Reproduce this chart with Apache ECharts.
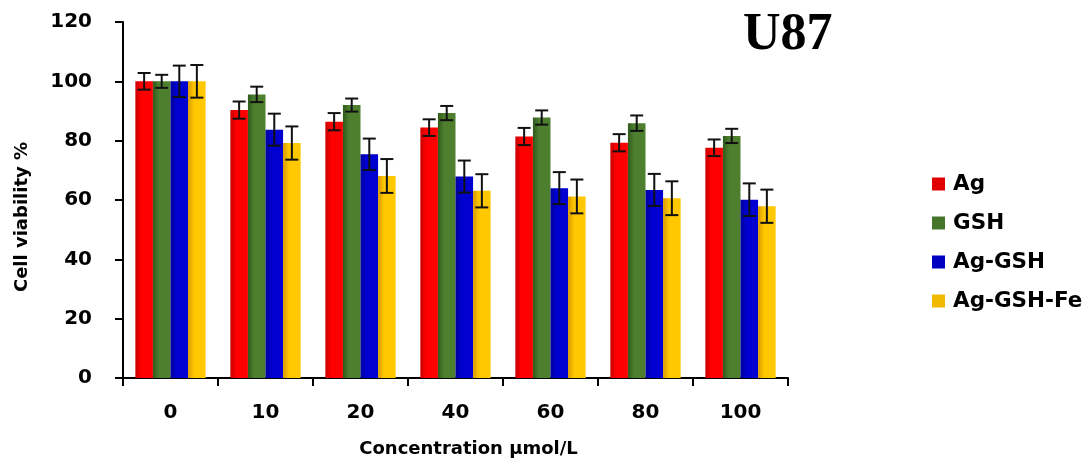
<!DOCTYPE html>
<html>
<head>
<meta charset="utf-8">
<script src="https://cdn.jsdelivr.net/npm/echarts@6/dist/echarts.min.js"></script>
<style>
  html, body { margin: 0; padding: 0; background: #fff; }
  #chart { width: 1089px; height: 465px; }
</style>
</head>
<body>
<div id="chart"></div>
<script>
// concentrations (µmol/L)
const categories = ['0', '10', '20', '40', '60', '80', '100'];

// mean cell viability % per group
const agValues = [100, 90.3, 86.4, 84.4, 81.4, 79.3, 77.6];
const gshValues = [100, 95.6, 92.0, 89.3, 87.8, 85.9, 81.6];
const agGshValues = [100, 83.7, 75.4, 67.9, 64.0, 63.4, 60.1];
const agGshFeValues = [100, 79.2, 68.1, 63.1, 61.2, 60.6, 57.9];

// error bar half-heights
const agErr = [2.8, 2.9, 2.9, 2.8, 2.9, 2.9, 2.8];
const gshErr = [2.2, 2.6, 2.2, 2.4, 2.4, 2.6, 2.4];
const agGshErr = [5.3, 5.4, 5.3, 5.4, 5.4, 5.4, 5.5];
const agGshFeErr = [5.5, 5.6, 5.7, 5.6, 5.7, 5.7, 5.6];

const yTicks = [0, 20, 40, 60, 80, 100, 120];

const seriesNames = ['Ag', 'GSH', 'Ag-GSH', 'Ag-GSH-Fe'];
const seriesValues = [agValues, gshValues, agGshValues, agGshFeValues];
const seriesErrs = [agErr, gshErr, agGshErr, agGshFeErr];

function shade(c1, c2) {
    return new echarts.graphic.LinearGradient(0, 0, 1, 0, [
        { offset: 0, color: c1 },
        { offset: 0.35, color: c2 },
        { offset: 1, color: c2 }
    ]);
}
const colors = [
    shade('#c80000', '#ff0000'),
    shade('#2f5a1c', '#4e7f2e'),
    shade('#00009a', '#0000d0'),
    shade('#d99a00', '#ffc800')
];
const legendColors = ['#e00000', '#45752a', '#0000c0', '#f0b800'];

const CAT_GAP = 0.26;
const font = '"DejaVu Sans", sans-serif';

const chart = echarts.init(document.getElementById('chart'));

const barSeries = seriesNames.map((name, i) => ({
    name: name,
    type: 'bar',
    data: seriesValues[i],
    barGap: '0%',
    barCategoryGap: (CAT_GAP * 100) + '%',
    itemStyle: { color: colors[i] },
    emphasis: { disabled: true }
}));

const errData = [];
seriesValues.forEach((vals, s) => {
    vals.forEach((v, c) => errData.push([c, v, seriesErrs[s][c], s]));
});

const errSeries = {
    type: 'custom',
    data: errData,
    z: 10,
    silent: true,
    renderItem: function (params, api) {
        const c = api.value(0);
        const v = api.value(1);
        const e = api.value(2);
        const s = api.value(3);
        const bandW = api.size([1, 0])[0];
        const bw = bandW * (1 - CAT_GAP) / 4;
        const x = api.coord([c, v])[0] + (s - 1.5) * bw;
        const yTop = api.coord([c, v + e])[1];
        const yBot = api.coord([c, v - e])[1];
        const cap = 6.5;
        const style = { stroke: '#111', lineWidth: 2, fill: null };
        return {
            type: 'group',
            children: [
                { type: 'line', shape: { x1: x, y1: yTop, x2: x, y2: yBot }, style: style },
                { type: 'line', shape: { x1: x - cap, y1: yTop, x2: x + cap, y2: yTop }, style: style },
                { type: 'line', shape: { x1: x - cap, y1: yBot, x2: x + cap, y2: yBot }, style: style }
            ]
        };
    }
};

const options = {
    animation: false,
    title: {
        text: 'U87',
        left: 738,
        top: 5,
        textStyle: {
            fontFamily: '"Liberation Serif", "DejaVu Serif", serif',
            fontWeight: 'bold',
            fontSize: 52,
            color: '#000'
        }
    },
    legend: {
        orient: 'vertical',
        left: 927,
        top: 167,
        itemWidth: 13,
        itemHeight: 13,
        itemGap: 15,
        icon: 'rect',
        selectedMode: false,
        data: seriesNames.map((n, i) => ({ name: n, itemStyle: { color: legendColors[i] } })),
        textStyle: {
            fontFamily: font,
            fontWeight: 'bold',
            fontSize: 21.5,
            lineHeight: 24,
            color: '#000',
            padding: [0, 0, 0, 3]
        }
    },
    grid: { left: 123, right: 301, top: 22, bottom: 87 },
    xAxis: {
        type: 'category',
        data: categories,
        name: 'Concentration µmol/L',
        nameLocation: 'middle',
        nameGap: 62,
        nameTextStyle: {
            fontFamily: font, fontWeight: 'bold', fontSize: 18, color: '#000',
            padding: [0, 0, 0, 26]
        },
        axisLine: { lineStyle: { color: '#000', width: 2 } },
        axisTick: { show: true, length: 8, alignWithLabel: false, lineStyle: { color: '#000', width: 2 } },
        axisLabel: {
            margin: 25,
            fontFamily: font, fontWeight: 'bold', fontSize: 20, color: '#000'
        }
    },
    yAxis: {
        type: 'value',
        min: yTicks[0],
        max: yTicks[yTicks.length - 1],
        interval: yTicks[1] - yTicks[0],
        name: 'Cell viability %',
        nameLocation: 'middle',
        nameGap: 92,
        nameTextStyle: {
            fontFamily: font, fontWeight: 'bold', fontSize: 18, color: '#000',
            padding: [0, 34, 0, 0]
        },
        splitLine: { show: false },
        axisLine: { show: true, lineStyle: { color: '#000', width: 2 } },
        axisTick: { show: true, length: 8, lineStyle: { color: '#000', width: 2 } },
        axisLabel: {
            margin: 31,
            fontFamily: font, fontWeight: 'bold', fontSize: 20, color: '#000'
        }
    },
    series: barSeries.concat([errSeries])
};

chart.setOption(options);
</script>
</body>
</html>
